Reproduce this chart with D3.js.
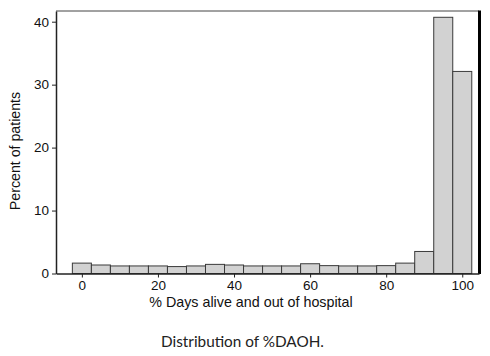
<!DOCTYPE html>
<html>
<head>
<meta charset="utf-8">
<script src="https://cdn.jsdelivr.net/npm/d3@7"></script>
<style>
  html, body { margin: 0; padding: 0; background: #fff; }
  svg { display: block; }
</style>
</head>
<body>
<svg id="chart" width="490" height="356"></svg>
<script>
// Data: bin centres (% DAOH) and percent of patients
const binCenters = [0, 5, 10, 15, 20, 25, 30, 35, 40, 45, 50, 55, 60, 65, 70, 75, 80, 85, 90, 95, 100];
const percents   = [1.65, 1.35, 1.2, 1.2, 1.2, 1.1, 1.2, 1.45, 1.35, 1.2, 1.2, 1.2, 1.55, 1.25, 1.2, 1.2, 1.25, 1.65, 3.5, 40.7, 32.1];
const binWidth = 5;
const xTicks = [0, 20, 40, 60, 80, 100];
const yTicks = [0, 10, 20, 30, 40];
const xTitle = "% Days alive and out of hospital";
const yTitle = "Percent of patients";
const caption = "Distribution of %DAOH.";

const svg = d3.select("#chart");
const pLeft = 56, pRight = 479, pTop = 11, pBottom = 273.5;

const x = d3.scaleLinear().domain([-6.8, 104.4]).range([pLeft, pRight]);
const y = d3.scaleLinear().domain([0, 41.7]).range([pBottom, pTop]);

const font = "'Liberation Sans', Arial, Helvetica, sans-serif";

// bars
svg.append("g").selectAll("rect")
  .data(binCenters)
  .join("rect")
  .attr("x", (d) => x(d - binWidth / 2))
  .attr("width", (d) => x(d + binWidth / 2) - x(d - binWidth / 2))
  .attr("y", (d, i) => y(percents[i]))
  .attr("height", (d, i) => y(0) - y(percents[i]))
  .attr("fill", "#d2d2d2")
  .attr("stroke", "#3a3a3a")
  .attr("stroke-width", 1);

// frame lines
svg.append("line").attr("x1", pLeft).attr("x2", pRight).attr("y1", pTop).attr("y2", pTop)
  .attr("stroke", "#444").attr("stroke-width", 1);
svg.append("line").attr("x1", pRight + 0.5).attr("x2", pRight + 0.5).attr("y1", pTop - 0.5).attr("y2", pBottom + 0.5)
  .attr("stroke", "#000").attr("stroke-width", 3);

// axes
const xAxis = svg.append("g")
  .attr("transform", `translate(0,${pBottom})`)
  .call(d3.axisBottom(x).tickValues(xTicks).tickSize(4).tickSizeOuter(0).tickPadding(3));
const yAxis = svg.append("g")
  .attr("transform", `translate(${pLeft},0)`)
  .call(d3.axisLeft(y).tickValues(yTicks).tickSize(4).tickSizeOuter(0).tickPadding(3));

[xAxis, yAxis].forEach(g => {
  g.select(".domain").attr("stroke", "#222").attr("stroke-width", 1.5);
  g.selectAll(".tick line").attr("stroke", "#222").attr("stroke-width", 1);
  g.selectAll(".tick text").attr("font-family", font).attr("font-size", 13.5).attr("fill", "#111");
});

// titles
svg.append("text")
  .attr("x", 251).attr("y", 307)
  .attr("text-anchor", "middle")
  .attr("font-family", font).attr("font-size", 14.3).attr("fill", "#111")
  .text(xTitle);

svg.append("text")
  .attr("transform", `translate(20,151) rotate(-90)`)
  .attr("text-anchor", "middle")
  .attr("font-family", font).attr("font-size", 14.2).attr("fill", "#111")
  .text(yTitle);

svg.append("text")
  .attr("x", 242.5).attr("y", 346.5)
  .attr("text-anchor", "middle")
  .attr("font-family", "Lato, 'Noto Sans', sans-serif").attr("font-size", 15.3).attr("fill", "#222")
  .text(caption);
</script>
</body>
</html>
